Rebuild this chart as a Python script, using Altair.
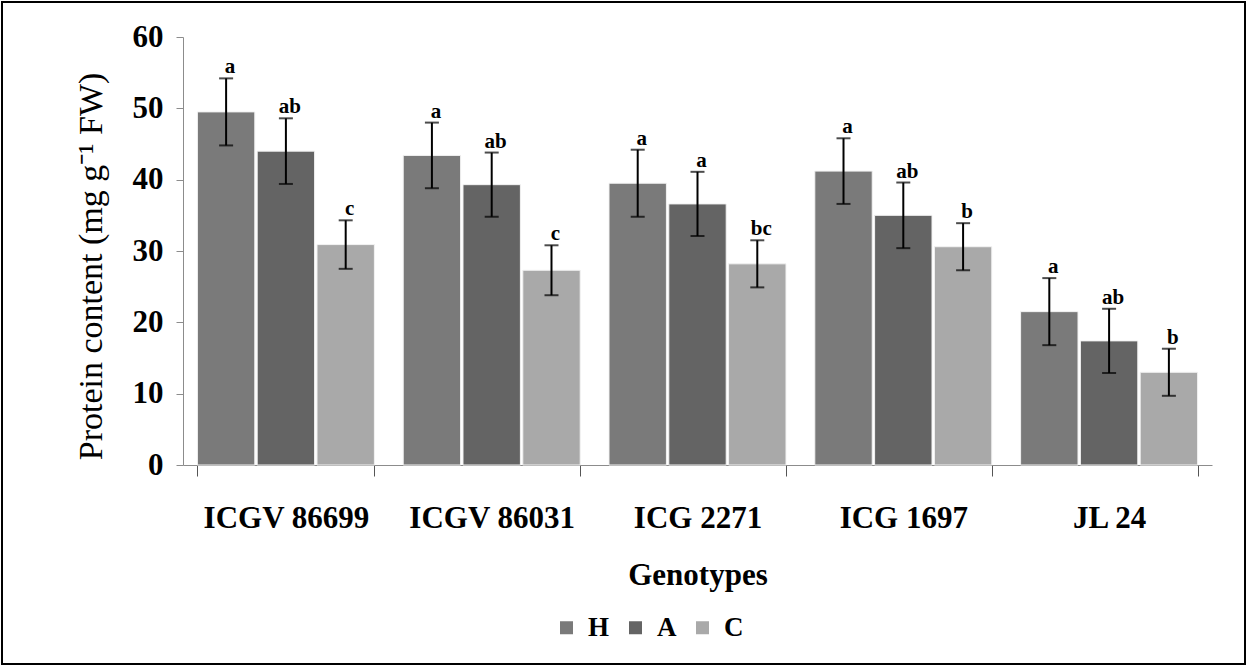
import altair as alt
import pandas as pd

genotypes = ["ICGV 86699", "ICGV 86031", "ICG 2271", "ICG 1697", "JL 24"]
treatments = ["H", "A", "C"]
H_vals = [49.5, 43.4, 39.5, 41.2, 21.5]
A_vals = [44.0, 39.3, 36.6, 35.0, 17.4]
C_vals = [30.9, 27.3, 28.2, 30.6, 13.0]
H_err = [4.7, 4.6, 4.7, 4.6, 4.7]
A_err = [4.6, 4.5, 4.5, 4.6, 4.5]
C_err = [3.4, 3.5, 3.3, 3.3, 3.3]
H_let = ["a", "a", "a", "a", "a"]
A_let = ["ab", "ab", "a", "ab", "ab"]
C_let = ["c", "c", "bc", "b", "b"]
colors = ["#7a7a7a", "#646464", "#a9a9a9"]

rows = []
for t, vals, errs, lets in [("H", H_vals, H_err, H_let), ("A", A_vals, A_err, A_let), ("C", C_vals, C_err, C_let)]:
    for g, v, e, l in zip(genotypes, vals, errs, lets):
        rows.append({"Genotype": g, "Treatment": t, "value": v, "lo": v - e, "hi": v + e, "letter": l})
df = pd.DataFrame(rows)

FONT = "Liberation Serif"

x_enc = alt.X("Genotype:N", sort=genotypes,
              scale=alt.Scale(paddingInner=0.14, paddingOuter=0.07),
              axis=alt.Axis(title="Genotypes", labelAngle=0, tickBand="extent"))
x_plain = alt.X("Genotype:N", sort=genotypes)
xo = alt.XOffset("Treatment:N", sort=treatments, scale=alt.Scale(paddingInner=0.04))

base = alt.Chart(df)

bars = base.mark_bar(stroke="#f2f2f2", strokeWidth=1).encode(
    x=x_enc,
    xOffset=xo,
    y=alt.Y("value:Q", scale=alt.Scale(domain=[0, 60]),
            axis=alt.Axis(title="Protein content (mg g⁻¹ FW)", values=[0, 10, 20, 30, 40, 50, 60],
                          titleX=-75, titleY=229)),
    color=alt.Color("Treatment:N", sort=treatments,
                    scale=alt.Scale(domain=treatments, range=colors),
                    legend=alt.Legend(title=None, orient="none", direction="horizontal",
                                      legendX=370, legendY=577, symbolType="square",
                                      symbolSize=169, symbolStrokeWidth=0,
                                      labelOffset=8, columnPadding=12)),
)

rules = base.mark_rule(color="black", strokeWidth=2).encode(
    x=x_plain, xOffset=xo, y="lo:Q", y2="hi:Q")

caps_hi = base.mark_tick(color="black", thickness=2, size=14, orient="horizontal").encode(
    x=x_plain, xOffset=xo, y="hi:Q")
caps_lo = base.mark_tick(color="black", thickness=2, size=14, orient="horizontal").encode(
    x=x_plain, xOffset=xo, y="lo:Q")

letters = base.mark_text(font=FONT, fontSize=21, fontWeight="bold", baseline="bottom",
                         dx=4, dy=-1, color="black").encode(
    x=x_plain, xOffset=xo, y="hi:Q", text="letter:N")

frame = alt.Chart(pd.DataFrame({"k": [0]})).mark_rect(fill=None, stroke="black", strokeWidth=2).encode(
    x=alt.value(-181), x2=alt.value(1062), y=alt.value(-35), y2=alt.value(627))

chart = alt.layer(bars, rules, caps_hi, caps_lo, letters, frame).properties(
    width=1029, height=428,
    autosize=alt.AutoSizeParams(type="none"),
    padding={"left": 183, "top": 37, "right": 35, "bottom": 202},
    background="white",
).configure_view(stroke=None).configure_axisX(
    labelFont=FONT, labelFontSize=31, labelFontWeight="bold", labelColor="black",
    labelPadding=27, titleFont=FONT, titleFontSize=31, titleFontWeight="bold",
    titleColor="black", titlePadding=27, domainColor="#8c8c8c", tickColor="#555", tickSize=11,
    grid=False,
).configure_axisY(
    grid=False, labelFont=FONT, labelFontSize=31, labelFontWeight="bold",
    labelColor="black", labelPadding=13, tickSize=7, tickColor="#8c8c8c",
    domainColor="#8c8c8c", titleFont=FONT, titleFontSize=34,
    titleFontWeight="normal", titleColor="black",
).configure_legend(
    labelFont=FONT, labelFontSize=27, labelFontWeight="bold", labelColor="black", padding=0,
)

chart.save("out.html", embed_options={"renderer": "svg", "actions": False})
